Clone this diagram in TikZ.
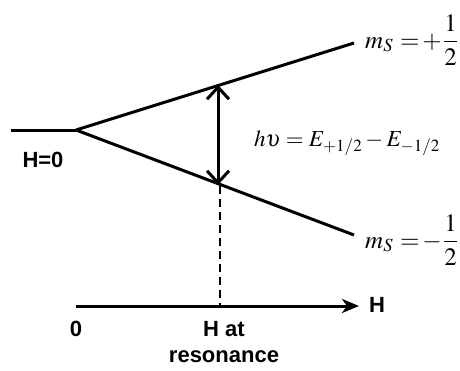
\documentclass[tikz,border=0pt]{standalone}
\usepackage{amsmath}
\usepackage{mathptmx}
\usepackage{fontspec}
\setsansfont{Liberation Sans}
\usepackage{tikz}
\usetikzlibrary{positioning, arrows.meta}

\begin{document}
\begin{tikzpicture}[
  x=1pt, y=-1pt,
  level/.style={line width=3pt},
  transition/.style={line width=3pt, {Straight Barb[length=12pt,width=22pt,line width=3pt]}-{Straight Barb[length=12pt,width=22pt,line width=3pt]}},
  axis/.style={line width=3pt, -{Stealth[length=17pt,width=14pt,inset=5pt]}},
  guide/.style={line width=1.5pt, dash pattern=on 8pt off 5pt},
  lbl/.style={font=\sffamily\bfseries\fontsize{22}{26}\selectfont, align=center, inner sep=0pt},
  eqn/.style={font=\fontsize{23}{26}\selectfont, inner sep=0pt},
  spin/.style={font=\fontsize{25}{30}\selectfont, inner sep=0pt, anchor=base west},
]
\useasboundingbox (0,0) rectangle (460,370);

% Zeeman splitting
\coordinate (start) at (11,130);
\coordinate (split) at (76,130);
\coordinate (up) at (354,43);
\coordinate (down) at (354,235);
\draw[level] (start) -- (split);
\draw[level] (split) -- (up);
\draw[level] (split) -- (down);

% Resonance transition
\coordinate (top) at (218,85);
\coordinate (bot) at (218,185);
\draw[transition] (bot) -- (top);

% Field axis
\coordinate (orig) at (76,306);
\coordinate (tip) at (359,306);
\coordinate (res) at (220,306);
\coordinate (resup) at (220,186);
\draw[axis] (orig) -- (tip);
\draw[guide] (resup) -- (res);

% Labels
\node[lbl] (zero) at (43,160) {H=0};
\node[lbl] (origin) at (76,329) {0};
\node[lbl] (hres) at (224,342) {H at\\resonance};
\node[lbl] (hfield) at (377,305) {H};
\node[eqn] (energy) at (347,143) {$h\upsilon = E_{+1/2} - E_{-1/2}$};
\node[spin] (plus) at (365,48) {$m_S\mkern5mu{=}\mkern2mu{+}\mkern1mu\dfrac{1}{2}$};
\node[spin] (minus) at (365,248) {$m_S\mkern5mu{=}\mkern2mu{-}\mkern1mu\dfrac{1}{2}$};
\end{tikzpicture}
\end{document}
